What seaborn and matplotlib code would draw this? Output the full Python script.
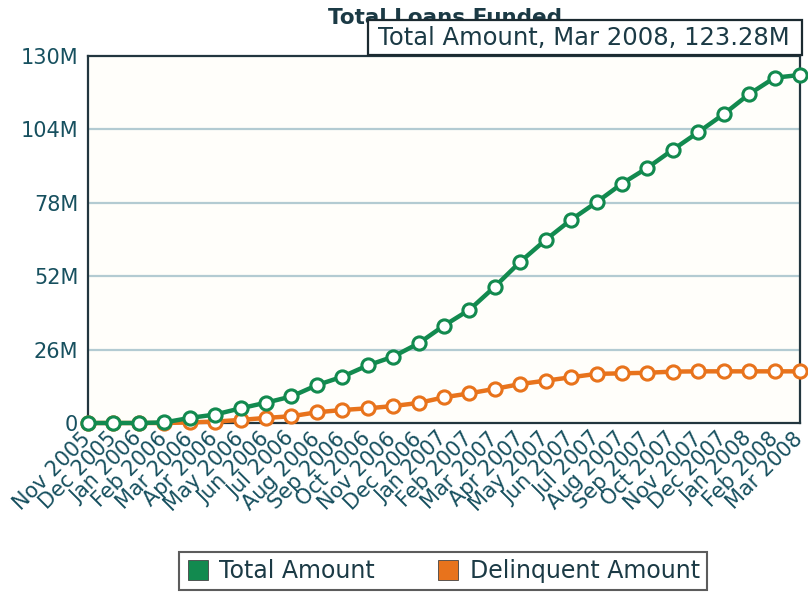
import matplotlib
matplotlib.use("Agg")
import matplotlib.pyplot as plt
from matplotlib.lines import Line2D
from matplotlib.patches import Rectangle
import seaborn as sns
import pandas as pd

months = ["Nov 2005", "Dec 2005", "Jan 2006", "Feb 2006", "Mar 2006", "Apr 2006",
          "May 2006", "Jun 2006", "Jul 2006", "Aug 2006", "Sep 2006", "Oct 2006",
          "Nov 2006", "Dec 2006", "Jan 2007", "Feb 2007", "Mar 2007", "Apr 2007",
          "May 2007", "Jun 2007", "Jul 2007", "Aug 2007", "Sep 2007", "Oct 2007",
          "Nov 2007", "Dec 2007", "Jan 2008", "Feb 2008", "Mar 2008"]
total_amount = [0.0, 0.0, 0.0, 0.2, 1.8, 3.0, 5.2, 7.2, 9.4, 13.4, 16.4, 20.4,
                23.5, 28.2, 34.5, 40.1, 48.3, 57.1, 64.9, 72.0, 78.2, 84.8,
                90.4, 96.8, 103.0, 109.4, 116.5, 122.3, 123.28]
delinquent_amount = [0.0, 0.0, 0.0, 0.0, 0.2, 0.5, 1.1, 1.8, 2.4, 3.8, 4.6, 5.2,
                     6.0, 7.1, 9.1, 10.5, 12.1, 13.8, 15.0, 16.2, 17.4, 17.6,
                     17.8, 18.2, 18.3, 18.3, 18.3, 18.3, 18.3]
y_ticks = [0, 26, 52, 78, 104, 130]
y_tick_labels = ["0", "26M", "52M", "78M", "104M", "130M"]
series_names = ["Total Amount", "Delinquent Amount"]
colors = ["#128a4f", "#e8731c"]

df = pd.DataFrame({
    "idx": list(range(len(months))) * 2,
    "value": total_amount + delinquent_amount,
    "series": [series_names[0]] * len(months) + [series_names[1]] * len(months),
})

sns.set_style("white")
plt.rcParams["font.family"] = ["DejaVu Sans"]

fig = plt.figure(figsize=(8.08, 5.96), dpi=100)
ax = fig.add_axes([88 / 808, 1 - 423 / 596, (800 - 88) / 808, (423 - 56) / 596])
ax.set_facecolor("#fffefa")

text_color = "#17505f"
spine_color = "#22363f"

for y in y_ticks[1:-1]:
    ax.axhline(y, color="#b3cbd2", lw=1.6, zorder=0)

for name, col in zip(series_names[::-1], colors[::-1]):
    sub = df[df["series"] == name]
    sns.lineplot(data=sub, x="idx", y="value", ax=ax, color=col, lw=3.2,
                 marker="o", markersize=9.5, markerfacecolor="white",
                 markeredgecolor=col, markeredgewidth=2.2, clip_on=False,
                 legend=False, zorder=3)

ax.set_xlim(0, len(months) - 1)
ax.set_ylim(0, 130)
ax.set_xticks(range(len(months)), labels=months, rotation=45, ha="right",
              va="center", rotation_mode="anchor", fontsize=15, color=text_color)
ax.set_yticks(y_ticks, labels=y_tick_labels, fontsize=15, color=text_color)
ax.tick_params(axis="y", length=0, pad=7)
ax.tick_params(axis="x", length=0, pad=9)
ax.set_xlabel("")
ax.set_ylabel("")
for s in ax.spines.values():
    s.set_color(spine_color)
    s.set_linewidth(1.6)
    s.set_visible(True)

# Title, partly covered by the tooltip box as in the reference
fig.text(445 / 808, 1 - 18 / 596, "Total Loans Funded", ha="center", va="center",
         fontsize=15.5, fontweight="bold", color="#1b3a45", zorder=1)
box = Rectangle((368 / 808, 1 - 55 / 596), (802 - 368) / 808, 35 / 596,
                transform=fig.transFigure, facecolor="white", edgecolor="#1b2a30",
                lw=1.6, zorder=5)
fig.add_artist(box)
fig.text(584 / 808, 1 - 38 / 596, "Total Amount, Mar 2008, 123.28M", ha="center",
         va="center", fontsize=17.5, color="#1b3a45", zorder=6)

handles = [Line2D([], [], marker="s", color=c, markeredgecolor="#444444",
                  markeredgewidth=0.6, linestyle="none", markersize=15)
           for c in colors]
leg = fig.legend(handles, series_names, loc="center", bbox_to_anchor=(443 / 808, 1 - 571 / 596),
                 ncol=2, fontsize=17, frameon=True, fancybox=False, edgecolor="#333333",
                 handletextpad=0.4, columnspacing=2.6, borderpad=0.3, handlelength=1.0)
for t in leg.get_texts():
    t.set_color("#1b3a45")
leg.get_frame().set_linewidth(1.5)

fig.savefig("out.png", dpi=100)
